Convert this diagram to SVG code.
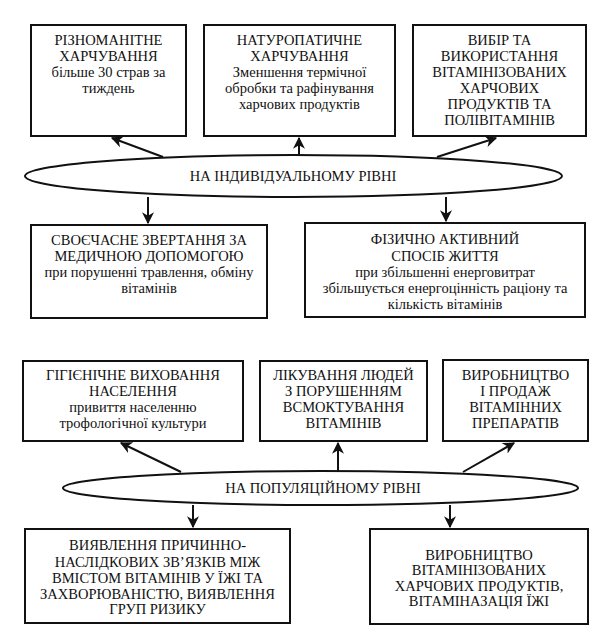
<svg xmlns="http://www.w3.org/2000/svg" width="600" height="639" viewBox="0 0 600 639">
<style>
.box{fill:#fff;stroke:#111;stroke-width:2}
.ell{fill:#fff;stroke:#111;stroke-width:2}
text{font-size:14.5px;fill:#111;text-anchor:middle}
.con line{stroke:#111;stroke-width:2;marker-end:url(#ah)}
</style>
<defs>
<marker id="ah" viewBox="0 0 10 10" refX="9" refY="5" markerWidth="6" markerHeight="6" markerUnits="strokeWidth" orient="auto">
<path d="M0,0 L10,5 L0,10 L3,5 z" fill="#111"/>
</marker>
</defs>
<rect width="600" height="639" fill="#fff"/>
<g font-family="Liberation Serif, DejaVu Serif, serif">
<g id="ind-ellipse">
<ellipse class="ell" cx="293.5" cy="176" rx="268.5" ry="21"/>
<text x="293" y="181">НА ІНДИВІДУАЛЬНОМУ РІВНІ</text>
</g>
<g id="pop-ellipse">
<ellipse class="ell" cx="320.5" cy="488" rx="257.5" ry="17"/>
<text x="323" y="493">НА ПОПУЛЯЦІЙНОМУ РІВНІ</text>
</g>

<g class="con" id="connectors">
<line x1="163" y1="157" x2="112" y2="138"/>
<line x1="299" y1="155" x2="299" y2="138"/>
<line x1="437" y1="157" x2="496" y2="138"/>
<line x1="148" y1="197" x2="148" y2="223"/>
<line x1="446" y1="197" x2="446" y2="221"/>
<line x1="181" y1="472" x2="121" y2="443"/>
<line x1="338" y1="471" x2="338" y2="443"/>
<line x1="463" y1="472" x2="514" y2="443"/>
<line x1="193" y1="505" x2="193" y2="527"/>
<line x1="450" y1="505" x2="450" y2="527"/>
</g>

<g id="box1">
<rect class="box" x="31" y="25" width="155" height="111"/>
<text x="108.5" y="45">РІЗНОМАНІТНЕ</text>
<text x="108.5" y="61">ХАРЧУВАННЯ</text>
<text x="108.5" y="77">більше 30 страв за</text>
<text x="108.5" y="93">тиждень</text>
</g>
<g id="box2">
<rect class="box" x="204" y="25" width="191" height="111"/>
<text x="299.5" y="45">НАТУРОПАТИЧНЕ</text>
<text x="299.5" y="61">ХАРЧУВАННЯ</text>
<text x="299.5" y="77">Зменшення термічної</text>
<text x="299.5" y="93">обробки та рафінування</text>
<text x="299.5" y="109">харчових продуктів</text>
</g>
<g id="box3">
<rect class="box" x="413" y="25" width="173" height="111"/>
<text x="499.5" y="45">ВИБІР ТА</text>
<text x="499.5" y="61">ВИКОРИСТАННЯ</text>
<text x="499.5" y="77">ВІТАМІНІЗОВАНИХ</text>
<text x="499.5" y="93">ХАРЧОВИХ</text>
<text x="499.5" y="109">ПРОДУКТІВ ТА</text>
<text x="499.5" y="125">ПОЛІВІТАМІНІВ</text>
</g>
<g id="box4">
<rect class="box" x="31" y="225" width="236" height="93"/>
<text x="149" y="245">СВОЄЧАСНЕ ЗВЕРТАННЯ ЗА</text>
<text x="149" y="261">МЕДИЧНОЮ ДОПОМОГОЮ</text>
<text x="149" y="277">при порушенні травлення, обміну</text>
<text x="149" y="293">вітамінів</text>
</g>
<g id="box5">
<rect class="box" x="305" y="223" width="280" height="94"/>
<text x="445" y="244">ФІЗИЧНО АКТИВНИЙ</text>
<text x="445" y="261">СПОСІБ ЖИТТЯ</text>
<text x="445" y="277">при збільшенні енерговитрат</text>
<text x="445" y="293">збільшується енергоцінність раціону та</text>
<text x="445" y="309">кількість вітамінів</text>
</g>
<g id="box6">
<rect class="box" x="23" y="361" width="220" height="80"/>
<text x="133" y="380">ГІГІЄНІЧНЕ ВИХОВАННЯ</text>
<text x="133" y="396">НАСЕЛЕННЯ</text>
<text x="133" y="412">привиття населенню</text>
<text x="133" y="428">трофологічної культури</text>
</g>
<g id="box7">
<rect class="box" x="260" y="361" width="167" height="80"/>
<text x="343.5" y="380">ЛІКУВАННЯ ЛЮДЕЙ</text>
<text x="343.5" y="396">З ПОРУШЕННЯМ</text>
<text x="343.5" y="412">ВСМОКТУВАННЯ</text>
<text x="343.5" y="428">ВІТАМІНІВ</text>
</g>
<g id="box8">
<rect class="box" x="443" y="360" width="145" height="81"/>
<text x="515.5" y="380">ВИРОБНИЦТВО</text>
<text x="515.5" y="396">І ПРОДАЖ</text>
<text x="515.5" y="412">ВІТАМІННИХ</text>
<text x="515.5" y="428">ПРЕПАРАТІВ</text>
</g>
<g id="box9">
<rect class="box" x="25" y="529" width="265" height="94"/>
<text x="157.5" y="550">ВИЯВЛЕННЯ ПРИЧИННО-</text>
<text x="157.5" y="567">НАСЛІДКОВИХ ЗВ’ЯЗКІВ МІЖ</text>
<text x="157.5" y="583">ВМІСТОМ ВІТАМІНІВ У ЇЖІ ТА</text>
<text x="157.5" y="599">ЗАХВОРЮВАНІСТЮ, ВИЯВЛЕННЯ</text>
<text x="157.5" y="614">ГРУП РИЗИКУ</text>
</g>
<g id="box10">
<rect class="box" x="370" y="529" width="218" height="95"/>
<text x="479" y="560">ВИРОБНИЦТВО</text>
<text x="479" y="575">ВІТАМІНІЗОВАНИХ</text>
<text x="479" y="591">ХАРЧОВИХ ПРОДУКТІВ,</text>
<text x="479" y="606">ВІТАМІНАЗАЦІЯ ЇЖІ</text>
</g>
</g>
</svg>
